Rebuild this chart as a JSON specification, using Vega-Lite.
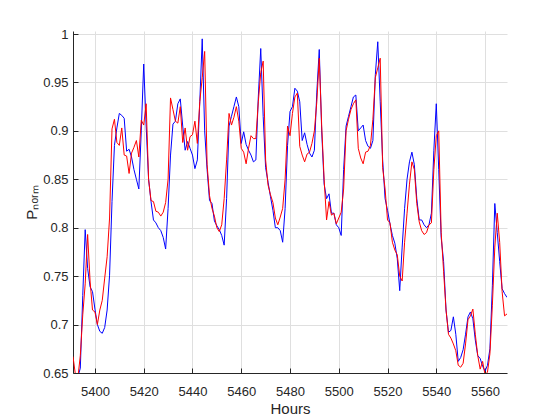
{
  "$schema": "https://vega.github.io/schema/vega-lite/v6.json",
  "width": 434,
  "height": 342,
  "autosize": {"type": "none"},
  "padding": {"left": 73, "top": 31, "right": 53, "bottom": 47},
  "background": "white",
  "config": {
    "view": {"stroke": null},
    "font": "Liberation Sans",
    "axis": {
      "domainColor": "#262626",
      "domainWidth": 1,
      "tickColor": "#262626",
      "tickSize": -5,
      "tickWidth": 1,
      "labelColor": "#262626",
      "labelFont": "Liberation Sans",
      "labelFontSize": 13,
      "titleColor": "#262626",
      "titleFont": "Liberation Sans",
      "titleFontSize": 15,
      "titleFontWeight": "normal",
      "gridColor": "#dfdfdf",
      "gridWidth": 1
    }
  },
  "data": {
    "values": [
      {"h":5391,"measured":0.645,"forecast":0.667},
      {"h":5392,"measured":0.642,"forecast":0.648},
      {"h":5393,"measured":0.646,"forecast":0.645},
      {"h":5394,"measured":0.655,"forecast":0.668},
      {"h":5395,"measured":0.73,"forecast":0.71},
      {"h":5396,"measured":0.798,"forecast":0.742},
      {"h":5397,"measured":0.758,"forecast":0.793},
      {"h":5398,"measured":0.739,"forecast":0.745},
      {"h":5399,"measured":0.734,"forecast":0.715},
      {"h":5400,"measured":0.716,"forecast":0.713},
      {"h":5401,"measured":0.70,"forecast":0.70},
      {"h":5402,"measured":0.693,"forecast":0.715},
      {"h":5403,"measured":0.691,"forecast":0.725},
      {"h":5404,"measured":0.697,"forecast":0.748},
      {"h":5405,"measured":0.715,"forecast":0.77},
      {"h":5406,"measured":0.751,"forecast":0.81},
      {"h":5407,"measured":0.827,"forecast":0.902},
      {"h":5408,"measured":0.885,"forecast":0.912},
      {"h":5409,"measured":0.903,"forecast":0.888},
      {"h":5410,"measured":0.918,"forecast":0.885},
      {"h":5411,"measured":0.916,"forecast":0.903},
      {"h":5412,"measured":0.913,"forecast":0.875},
      {"h":5413,"measured":0.879,"forecast":0.874},
      {"h":5414,"measured":0.881,"forecast":0.856},
      {"h":5415,"measured":0.873,"forecast":0.877},
      {"h":5416,"measured":0.86,"forecast":0.883},
      {"h":5417,"measured":0.85,"forecast":0.89},
      {"h":5418,"measured":0.84,"forecast":0.873},
      {"h":5419,"measured":0.90,"forecast":0.911},
      {"h":5420,"measured":0.969,"forecast":0.906},
      {"h":5421,"measured":0.905,"forecast":0.928},
      {"h":5422,"measured":0.85,"forecast":0.85},
      {"h":5423,"measured":0.827,"forecast":0.828},
      {"h":5424,"measured":0.808,"forecast":0.827},
      {"h":5425,"measured":0.805,"forecast":0.817},
      {"h":5426,"measured":0.80,"forecast":0.816},
      {"h":5427,"measured":0.797,"forecast":0.812},
      {"h":5428,"measured":0.79,"forecast":0.816},
      {"h":5429,"measured":0.778,"forecast":0.826},
      {"h":5430,"measured":0.82,"forecast":0.85},
      {"h":5431,"measured":0.875,"forecast":0.934},
      {"h":5432,"measured":0.907,"forecast":0.922},
      {"h":5433,"measured":0.91,"forecast":0.91},
      {"h":5434,"measured":0.928,"forecast":0.908},
      {"h":5435,"measured":0.933,"forecast":0.925},
      {"h":5436,"measured":0.905,"forecast":0.888},
      {"h":5437,"measured":0.88,"forecast":0.903},
      {"h":5438,"measured":0.889,"forecast":0.88},
      {"h":5439,"measured":0.882,"forecast":0.894},
      {"h":5440,"measured":0.875,"forecast":0.896},
      {"h":5441,"measured":0.861,"forecast":0.91},
      {"h":5442,"measured":0.87,"forecast":0.887},
      {"h":5443,"measured":0.93,"forecast":0.93},
      {"h":5444,"measured":0.995,"forecast":0.955},
      {"h":5445,"measured":0.90,"forecast":0.982},
      {"h":5446,"measured":0.86,"forecast":0.865},
      {"h":5447,"measured":0.828,"forecast":0.833},
      {"h":5448,"measured":0.825,"forecast":0.82},
      {"h":5449,"measured":0.807,"forecast":0.812},
      {"h":5450,"measured":0.802,"forecast":0.80},
      {"h":5451,"measured":0.798,"forecast":0.796},
      {"h":5452,"measured":0.792,"forecast":0.803},
      {"h":5453,"measured":0.782,"forecast":0.83},
      {"h":5454,"measured":0.83,"forecast":0.87},
      {"h":5455,"measured":0.905,"forecast":0.918},
      {"h":5456,"measured":0.915,"forecast":0.906},
      {"h":5457,"measured":0.925,"forecast":0.914},
      {"h":5458,"measured":0.935,"forecast":0.925},
      {"h":5459,"measured":0.925,"forecast":0.91},
      {"h":5460,"measured":0.887,"forecast":0.882},
      {"h":5461,"measured":0.899,"forecast":0.878},
      {"h":5462,"measured":0.886,"forecast":0.866},
      {"h":5463,"measured":0.88,"forecast":0.882},
      {"h":5464,"measured":0.875,"forecast":0.895},
      {"h":5465,"measured":0.868,"forecast":0.892},
      {"h":5466,"measured":0.87,"forecast":0.892},
      {"h":5467,"measured":0.935,"forecast":0.93},
      {"h":5468,"measured":0.985,"forecast":0.96},
      {"h":5469,"measured":0.915,"forecast":0.972},
      {"h":5470,"measured":0.862,"forecast":0.87},
      {"h":5471,"measured":0.847,"forecast":0.844},
      {"h":5472,"measured":0.832,"forecast":0.834},
      {"h":5473,"measured":0.818,"forecast":0.826},
      {"h":5474,"measured":0.80,"forecast":0.81},
      {"h":5475,"measured":0.80,"forecast":0.803},
      {"h":5476,"measured":0.797,"forecast":0.811},
      {"h":5477,"measured":0.785,"forecast":0.82},
      {"h":5478,"measured":0.82,"forecast":0.85},
      {"h":5479,"measured":0.885,"forecast":0.905},
      {"h":5480,"measured":0.92,"forecast":0.895},
      {"h":5481,"measured":0.925,"forecast":0.918},
      {"h":5482,"measured":0.944,"forecast":0.935},
      {"h":5483,"measured":0.941,"forecast":0.939},
      {"h":5484,"measured":0.93,"forecast":0.884},
      {"h":5485,"measured":0.89,"forecast":0.875},
      {"h":5486,"measured":0.898,"forecast":0.868},
      {"h":5487,"measured":0.886,"forecast":0.876},
      {"h":5488,"measured":0.877,"forecast":0.878},
      {"h":5489,"measured":0.873,"forecast":0.887},
      {"h":5490,"measured":0.88,"forecast":0.9},
      {"h":5491,"measured":0.94,"forecast":0.93},
      {"h":5492,"measured":0.984,"forecast":0.975},
      {"h":5493,"measured":0.90,"forecast":0.905},
      {"h":5494,"measured":0.845,"forecast":0.85},
      {"h":5495,"measured":0.83,"forecast":0.808},
      {"h":5496,"measured":0.835,"forecast":0.827},
      {"h":5497,"measured":0.815,"forecast":0.813},
      {"h":5498,"measured":0.815,"forecast":0.815},
      {"h":5499,"measured":0.803,"forecast":0.804},
      {"h":5500,"measured":0.80,"forecast":0.81},
      {"h":5501,"measured":0.792,"forecast":0.816},
      {"h":5502,"measured":0.86,"forecast":0.84},
      {"h":5503,"measured":0.905,"forecast":0.90},
      {"h":5504,"measured":0.915,"forecast":0.912},
      {"h":5505,"measured":0.925,"forecast":0.922},
      {"h":5506,"measured":0.935,"forecast":0.928},
      {"h":5507,"measured":0.937,"forecast":0.932},
      {"h":5508,"measured":0.90,"forecast":0.882},
      {"h":5509,"measured":0.903,"forecast":0.872},
      {"h":5510,"measured":0.906,"forecast":0.866},
      {"h":5511,"measured":0.89,"forecast":0.878},
      {"h":5512,"measured":0.884,"forecast":0.879},
      {"h":5513,"measured":0.882,"forecast":0.885},
      {"h":5514,"measured":0.89,"forecast":0.912},
      {"h":5515,"measured":0.958,"forecast":0.955},
      {"h":5516,"measured":0.992,"forecast":0.965},
      {"h":5517,"measured":0.93,"forecast":0.975},
      {"h":5518,"measured":0.87,"forecast":0.862},
      {"h":5519,"measured":0.83,"forecast":0.84},
      {"h":5520,"measured":0.818,"forecast":0.808},
      {"h":5521,"measured":0.804,"forecast":0.805},
      {"h":5522,"measured":0.792,"forecast":0.785},
      {"h":5523,"measured":0.784,"forecast":0.777},
      {"h":5524,"measured":0.768,"forecast":0.772},
      {"h":5525,"measured":0.735,"forecast":0.75},
      {"h":5526,"measured":0.78,"forecast":0.745},
      {"h":5527,"measured":0.82,"forecast":0.785},
      {"h":5528,"measured":0.85,"forecast":0.815},
      {"h":5529,"measured":0.868,"forecast":0.845},
      {"h":5530,"measured":0.878,"forecast":0.868},
      {"h":5531,"measured":0.865,"forecast":0.86},
      {"h":5532,"measured":0.83,"forecast":0.825},
      {"h":5533,"measured":0.808,"forecast":0.806},
      {"h":5534,"measured":0.808,"forecast":0.797},
      {"h":5535,"measured":0.803,"forecast":0.793},
      {"h":5536,"measured":0.80,"forecast":0.795},
      {"h":5537,"measured":0.803,"forecast":0.803},
      {"h":5538,"measured":0.815,"forecast":0.805},
      {"h":5539,"measured":0.88,"forecast":0.86},
      {"h":5540,"measured":0.928,"forecast":0.895},
      {"h":5541,"measured":0.86,"forecast":0.90},
      {"h":5542,"measured":0.79,"forecast":0.795},
      {"h":5543,"measured":0.765,"forecast":0.755},
      {"h":5544,"measured":0.715,"forecast":0.715},
      {"h":5545,"measured":0.692,"forecast":0.69},
      {"h":5546,"measured":0.694,"forecast":0.686},
      {"h":5547,"measured":0.708,"forecast":0.68},
      {"h":5548,"measured":0.69,"forecast":0.673},
      {"h":5549,"measured":0.662,"forecast":0.658},
      {"h":5550,"measured":0.666,"forecast":0.656},
      {"h":5551,"measured":0.674,"forecast":0.66},
      {"h":5552,"measured":0.69,"forecast":0.68},
      {"h":5553,"measured":0.708,"forecast":0.705},
      {"h":5554,"measured":0.713,"forecast":0.709},
      {"h":5555,"measured":0.706,"forecast":0.716},
      {"h":5556,"measured":0.684,"forecast":0.69},
      {"h":5557,"measured":0.668,"forecast":0.668},
      {"h":5558,"measured":0.665,"forecast":0.654},
      {"h":5559,"measured":0.657,"forecast":0.662},
      {"h":5560,"measured":0.652,"forecast":0.648},
      {"h":5561,"measured":0.658,"forecast":0.651},
      {"h":5562,"measured":0.675,"forecast":0.67},
      {"h":5563,"measured":0.74,"forecast":0.72},
      {"h":5564,"measured":0.825,"forecast":0.78},
      {"h":5565,"measured":0.795,"forecast":0.815},
      {"h":5566,"measured":0.765,"forecast":0.785},
      {"h":5567,"measured":0.737,"forecast":0.734},
      {"h":5568,"measured":0.732,"forecast":0.709},
      {"h":5569,"measured":0.728,"forecast":0.711}
    ]
  },
  "transform": [{"fold": ["measured", "forecast"], "as": ["series", "p"]}],
  "mark": {"type": "line", "clip": true, "strokeWidth": 1},
  "encoding": {
    "x": {
      "field": "h",
      "type": "quantitative",
      "scale": {"domain": [5391, 5569], "nice": false, "zero": false},
      "axis": {
        "title": "Hours",
        "values": [5400, 5420, 5440, 5460, 5480, 5500, 5520, 5540, 5560],
        "format": "d",
        "labelPadding": 17,
        "titlePadding": 3,
        "labelFlush": false
      }
    },
    "y": {
      "field": "p",
      "type": "quantitative",
      "scale": {"domain": [0.65, 1.0031], "nice": false, "zero": false},
      "axis": {
        "title": "Pₙₒᵣₘ",
        "values": [0.65, 0.7, 0.75, 0.8, 0.85, 0.9, 0.95, 1],
        "format": "~g",
        "labelPadding": 10,
        "titlePadding": 3,
        "labelFlush": false
      }
    },
    "color": {
      "field": "series",
      "type": "nominal",
      "scale": {"domain": ["measured", "forecast"], "range": ["#0000ff", "#ff0000"]},
      "legend": null
    }
  }
}
